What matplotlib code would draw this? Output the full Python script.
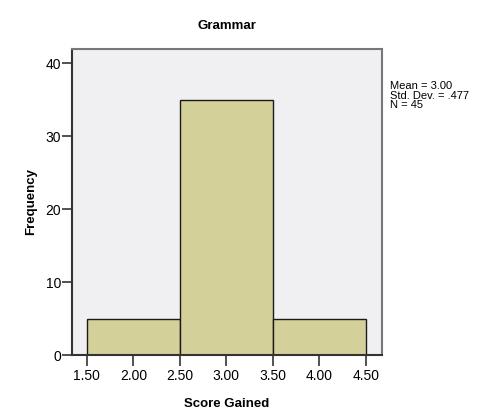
import matplotlib
matplotlib.use("Agg")
import matplotlib.pyplot as plt
import numpy as np

bin_edges = [1.5, 2.5, 3.5, 4.5]
counts = [5, 35, 5]
x_ticks = [1.5, 2.0, 2.5, 3.0, 3.5, 4.0, 4.5]
x_tick_labels = ["1.50", "2.00", "2.50", "3.00", "3.50", "4.00", "4.50"]
y_ticks = [0, 10, 20, 30, 40]
stats_text = "Mean = 3.00\nStd. Dev. = .477\nN = 45"

plt.rcParams['font.family'] = ['Liberation Sans', 'DejaVu Sans']

fig = plt.figure(figsize=(5.02, 4.12), dpi=100)
ax = fig.add_axes([0.1434, 0.1383, 0.617, 0.743])
ax.set_facecolor("#F0F0F2")

edges = np.array(bin_edges)
ax.bar(edges[:-1], counts, width=np.diff(edges), align='edge',
       color="#D3D09A", edgecolor="#1a1a1a", linewidth=1.0, zorder=2)

ax.set_xlim(1.34, 4.67)
ax.set_ylim(0, 42)
ax.set_xticks(x_ticks)
ax.set_xticklabels(x_tick_labels, fontsize=10)
ax.set_yticks(y_ticks)
ax.tick_params(axis='y', labelsize=10, length=7, width=1.2, color="#333333", pad=1)
ax.tick_params(axis='x', length=8, width=1.2, color="#333333", pad=2)

for s in ax.spines.values():
    s.set_color("#777777")
    s.set_linewidth(1.5)
ax.spines['left'].set_color("#333333")
ax.spines['bottom'].set_color("#333333")

ax.set_title("Grammar", fontsize=9.5, fontweight='bold', pad=14)
ax.set_xlabel("Score Gained", fontsize=9.5, fontweight='bold', labelpad=11)
ax.set_ylabel("Frequency", fontsize=9.5, fontweight='bold', labelpad=6)

fig.text(390/502, 1 - 81/412, stats_text, fontsize=8, va='top', ha='left',
         linespacing=0.95)

fig.savefig("out.png", dpi=100)
